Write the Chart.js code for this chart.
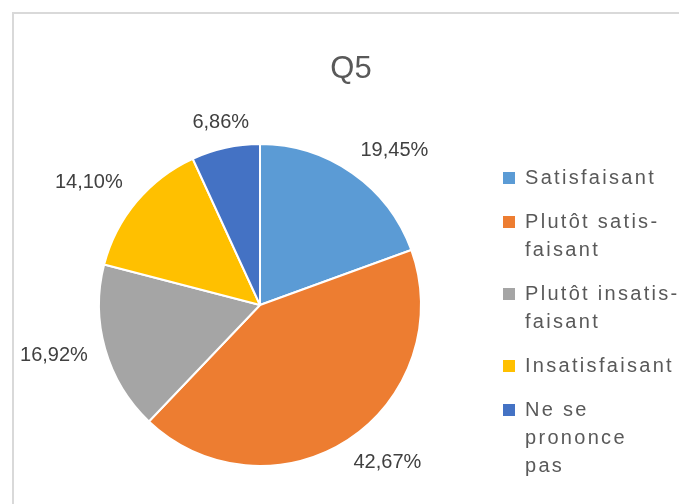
<!DOCTYPE html>
<html>
<head>
<meta charset="utf-8">
<script src="https://cdn.jsdelivr.net/npm/chart.js@4.4.0/dist/chart.umd.min.js"></script>
<style>
  body { margin: 0; background: #fff; }
  #wrap { width: 679px; height: 504px; }
</style>
</head>
<body>
<div id="wrap"><canvas id="myChart" width="679" height="504"></canvas></div>
<script>
// donnees du graphique Q5
const chartTitle = 'Q5'
const categories = ['Satisfaisant', 'Plutôt satisfaisant', 'Plutôt insatisfaisant', 'Insatisfaisant', 'Ne se prononce pas']
const legendLines = [['Satisfaisant'], ['Plutôt satis-', 'faisant'], ['Plutôt insatis-', 'faisant'], ['Insatisfaisant'], ['Ne se', 'prononce', 'pas']]
const values = [19.45, 42.67, 16.92, 14.10, 6.86]
const colors = ['#5B9BD5', '#ED7D31', '#A5A5A5', '#FFC000', '#4472C4']

function fmt(v) {
  return v.toFixed(2).replace('.', ',') + '%'
}

// cadre gris + titre
const framePlugin = {
  id: 'frame',
  beforeDraw(chart) {
    const ctx = chart.ctx
    ctx.save()
    ctx.fillStyle = '#fff'
    ctx.fillRect(0, 0, chart.width, chart.height)
    ctx.strokeStyle = '#d9d9d9'
    ctx.lineWidth = 2
    ctx.beginPath()
    ctx.moveTo(13, chart.height)
    ctx.lineTo(13, 13)
    ctx.lineTo(chart.width, 13)
    ctx.stroke()
    ctx.fillStyle = '#595959'
    ctx.font = '31px "Liberation Sans", Arial, sans-serif'
    ctx.textAlign = 'center'
    ctx.textBaseline = 'middle'
    ctx.fillText(chartTitle, 351, 69)
    ctx.restore()
  }
}

// etiquettes des pourcentages autour du camembert
const labelPlugin = {
  id: 'pctLabels',
  afterDatasetsDraw(chart) {
    const ctx = chart.ctx
    const meta = chart.getDatasetMeta(0)
    const clamp = (u) => Math.min(1, Math.max(0, (Math.abs(u) - 0.2) * 2.5)) * Math.sign(u)
    ctx.save()
    ctx.font = '20px "Liberation Sans", Arial, sans-serif'
    ctx.fillStyle = '#404040'
    ctx.textAlign = 'center'
    ctx.textBaseline = 'middle'
    meta.data.forEach((arc, i) => {
      const txt = fmt(chart.data.datasets[0].data[i])
      const a = (arc.startAngle + arc.endAngle) / 2
      const ux = Math.cos(a), uy = Math.sin(a)
      const w = ctx.measureText(txt).width
      const h = 16
      const d = arc.outerRadius + 18
      const x = arc.x + d * ux + (w / 2) * clamp(ux)
      const y = arc.y + d * uy + (h / 2) * clamp(uy)
      ctx.fillText(txt, x, y)
    })
    ctx.restore()
  }
}

// legende a droite (texte sur plusieurs lignes)
const legendPlugin = {
  id: 'sideLegend',
  afterDraw(chart) {
    const ctx = chart.ctx
    ctx.save()
    ctx.font = '20px "Liberation Sans", Arial, sans-serif'
    if ('letterSpacing' in ctx) ctx.letterSpacing = '2.3px'
    ctx.textBaseline = 'middle'
    ctx.textAlign = 'left'
    let y = 178
    legendLines.forEach((lines, i) => {
      ctx.fillStyle = colors[i]
      ctx.fillRect(503, y - 6, 12, 12)
      ctx.fillStyle = '#595959'
      lines.forEach((l) => {
        ctx.fillText(l, 525, y)
        y += 28
      })
      y += 16
    })
    ctx.restore()
  }
}

const data = {
  labels: categories,
  datasets: [{
    data: values,
    backgroundColor: colors,
    borderColor: '#fff',
    borderWidth: 2
  }]
}

const config = {
  type: 'pie',
  data: data,
  options: {
    responsive: false,
    animation: false,
    layout: {
      padding: { left: 98, right: 257, top: 143, bottom: 37 }
    },
    plugins: {
      legend: { display: false },
      title: { display: false },
      tooltip: { enabled: false }
    }
  },
  plugins: [framePlugin, labelPlugin, legendPlugin]
}

const ctx = document.getElementById('myChart')
const Pie = new Chart(ctx, config)
</script>
</body>
</html>
